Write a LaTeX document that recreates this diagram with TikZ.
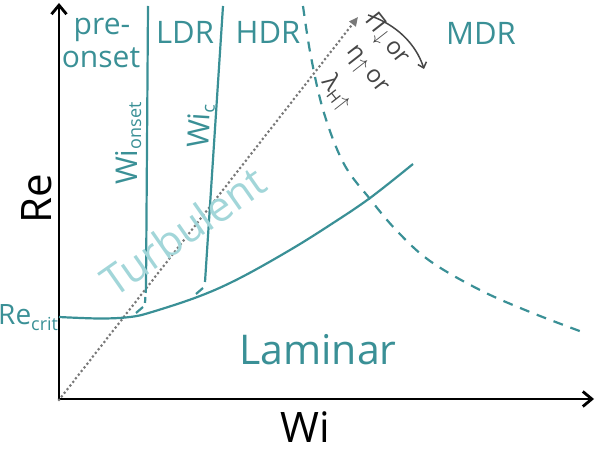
\documentclass[tikz,border=0pt]{standalone}
\usepackage{fontspec}
\setmainfont{Open Sans}
\usetikzlibrary{arrows.meta}
\definecolor{tealA}{RGB}{58,144,150}
\definecolor{tealL}{RGB}{162,214,217}
\definecolor{greyA}{RGB}{120,120,120}
\definecolor{greyD}{RGB}{70,70,70}
\newcommand\myfs[1]{\fontsize{#1}{#1}\selectfont}
\newcommand\myarr[1]{\raisebox{-3pt}{\myfs{20}$#1$}}
\begin{document}
\begin{tikzpicture}[x=1pt,y=-1pt,
  axis/.style={black, line width=2.8pt, -{Straight Barb[length=9pt,width=15pt]}},
  bound/.style={tealA, line width=2.2pt},
  lbl/.style={text=tealA, inner sep=0pt},
  ann/.style={text=greyD, inner sep=0pt, rotate=-52}]
\useasboundingbox (0,0) rectangle (598,449);
% axes
\coordinate (O) at (59,400);
\coordinate (O2) at (57.6,399);
\coordinate (ytop) at (59,3);
\coordinate (xend) at (594,399);
\draw[axis] (O) -- (ytop);
\draw[axis] (O2) -- (xend);
% dotted diagonal
\coordinate (dtip) at (358,17);
\draw[greyA, line width=3pt, line cap=round, dash pattern=on 0pt off 4.6pt,
  -{Triangle[length=9pt,width=8pt]}] (O) -- (dtip);
% curved arrow
\coordinate (ca) at (368,15);
\coordinate (cb) at (424,69);
\draw[greyD, line width=1.5pt, -{Straight Barb[length=5pt,width=9pt]}]
  (ca) .. controls (396,24) and (416,44) .. (cb);
% laminar/turbulent boundary
\draw[bound] plot[smooth, tension=0.6] coordinates
  {(59,317) (100,318.5) (130,317) (152,312) (200,296) (240,278) (290,250) (330,225) (370,198) (413,164)};
% MDR dashed curve
\draw[bound, dash pattern=on 10pt off 8pt] plot[smooth, tension=0.6] coordinates
  {(303,6) (311,57) (324,113) (344,164) (370,199) (397,231) (430,261) (480,290) (530,312) (585,333)};
% Wi_onset line
\coordinate (on1) at (148,6);
\coordinate (on2) at (146,287);
\coordinate (on3) at (145,303);
\draw[bound] (on1) -- (on2);
\draw[bound, dash pattern=on 6pt off 4pt] (on2) -- (on3);
\coordinate (h1a) at (143,307);
\coordinate (h1b) at (136,313);
\draw[bound] (h1a) -- (h1b);
% Wi_c line
\coordinate (c1) at (223,6);
\coordinate (c2) at (205,282);
\draw[bound] (c1) -- (c2);
\coordinate (h2a) at (203,288);
\coordinate (h2b) at (196,294);
\draw[bound] (h2a) -- (h2b);
% region labels
\node[lbl, anchor=base, font=\myfs{30}] (pre) at (102,35) {pre-};
\node[lbl, anchor=base, font=\myfs{30}] (onset) at (101,68) {onset};
\node[lbl, anchor=base, font=\myfs{31}] (ldr) at (185,44) {LDR};
\node[lbl, anchor=base, font=\myfs{31}] (hdr) at (268,44) {HDR};
\node[lbl, anchor=base, font=\myfs{31}] (mdr) at (481,45) {MDR};
\node[lbl, anchor=base, font=\myfs{41}] (lam) at (318,365) {Laminar};
\node[text=tealL, inner sep=0pt, rotate=35, font=\myfs{42}] (turb) at (183,231) {Turbulent};
\node[lbl, anchor=base west, rotate=90, font=\myfs{30}] (wion) at (137,185)
  {Wi\raisebox{-4pt}{\myfs{18}onset}};
\node[lbl, anchor=base west, rotate=86.3, font=\myfs{30}] (wic) at (208,149)
  {Wi\raisebox{-4pt}{\myfs{18}c}};
\node[lbl, anchor=base west, font=\myfs{28}] (recrit) at (-2,325)
  {Re\raisebox{-6pt}{\myfs{18}crit}};
% axis labels
\node[inner sep=0pt, anchor=base, rotate=90, font=\myfs{42}] (re) at (52,199) {Re};
\node[inner sep=0pt, anchor=base, font=\myfs{42}] (wi) at (305,443) {Wi};
% annotation
\node[ann, font=\myfs{24}] (t1) at (386,40) {Π\myarr{\downarrow}\,or};
\node[ann, font=\myfs{24}] (t2) at (365,71) {η\myarr{\uparrow}\,or};
\node[ann, font=\myfs{24}] (t3) at (337,93) {λ\raisebox{-5pt}{\myfs{16}H}\myarr{\uparrow}};
\end{tikzpicture}
\end{document}
